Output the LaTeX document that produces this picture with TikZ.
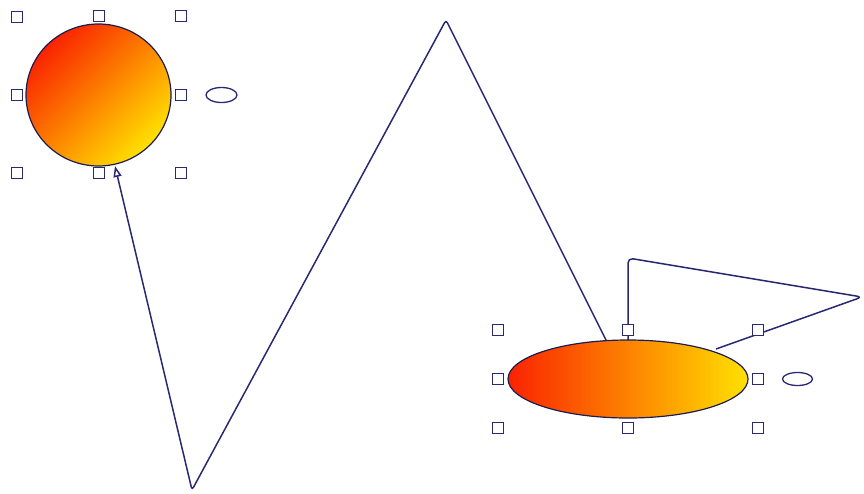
\documentclass[tikz,border=0pt]{standalone}
\usetikzlibrary{arrows.meta,shapes.geometric}
\definecolor{navy}{RGB}{40,40,115}
\definecolor{gred}{RGB}{250,35,0}
\definecolor{gorange}{RGB}{255,125,0}
\definecolor{gyellow}{RGB}{255,225,0}
\tikzset{
  conn/.style={draw=navy, line width=1.5pt, line join=round},
  handle/.style={draw=navy, fill=white, line width=1.3pt, minimum size=11pt, inner sep=0pt, rectangle},
  mini/.style={draw=navy, line width=1.3pt, ellipse, inner sep=0pt},
  blob/.style={draw=navy!70!black, line width=1.2pt, ellipse, inner sep=0pt}
}
\begin{document}
\begin{tikzpicture}[x=1pt,y=-1pt]
\useasboundingbox (0,0) rectangle (864,493);
% coordinates for connectors
\coordinate (a1) at (607,342);
\coordinate (v1) at (446,20);
\coordinate (v2) at (192,490);
\coordinate (a2) at (115,166);
\coordinate (b1) at (628,340);
\coordinate (w1) at (628,258);
\coordinate (w2) at (862,297);
\coordinate (b2) at (716,349);
% connectors
\draw[conn, rounded corners=3pt, -{Triangle[open, length=11pt, width=8pt, fill=white]}]
  (a1) -- (v1) -- (v2) -- (a2);
\draw[conn, rounded corners=5pt] (b1) -- (w1) -- (w2) -- (b2);
% handles circle
\foreach \n/\x/\y in {h1/17/17, h2/99/16, h3/181/16, h4/17/95, h5/181/95, h6/17/173, h7/99/173, h8/181/173}
  \node[handle] (\n) at (\x,\y) {};
% handles ellipse
\foreach \n/\x/\y in {k1/498/330, k2/628/330, k3/758/330, k4/498/379, k5/758/379, k6/498/428, k7/628/428, k8/758/428}
  \node[handle] (\n) at (\x,\y) {};
% shapes
\node[blob, minimum width=145pt, minimum height=142pt, top color=gred, middle color=gorange, bottom color=gyellow, shading angle=45] (c1) at (98.5,95) {};
\node[blob, minimum width=240pt, minimum height=78pt, left color=gred, middle color=gorange, right color=gyellow, shading angle=90] (e1) at (628,379) {};
% mini ellipses
\node[mini, minimum width=31pt, minimum height=15pt] (m1) at (221.5,95) {};
\node[mini, minimum width=30pt, minimum height=13pt] (m2) at (797.5,379) {};
\end{tikzpicture}
\end{document}
